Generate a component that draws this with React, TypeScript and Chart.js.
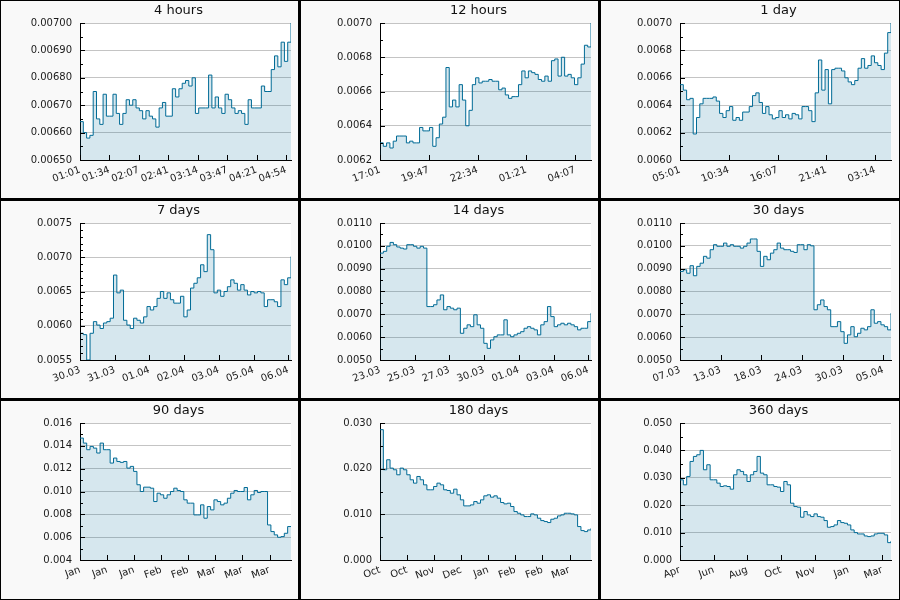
import { useEffect, useRef } from 'react'
import { Chart, registerables } from 'chart.js'

Chart.register(...registerables)
Chart.defaults.font.family = "'DejaVu Sans', sans-serif"
Chart.defaults.font.size = 10

const lineColor = '#006b96'
const fillColor = 'rgba(0, 107, 150, 0.16)'
const textColor = '#1a1a1a'

// 4 hours
const h4Ticks = ['01:01', '01:34', '02:07', '02:41', '03:14', '03:47', '04:21', '04:54']
const h4Values = [
  0.00664, 0.0066, 0.00658, 0.00659, 0.00675, 0.00665, 0.00663, 0.00674, 0.00666, 0.00666,
  0.00674, 0.00667, 0.00663, 0.00667, 0.00672, 0.0067, 0.00672, 0.00669, 0.00668, 0.00665,
  0.00668, 0.00666, 0.00665, 0.00662, 0.00669, 0.00671, 0.00666, 0.00666, 0.00676, 0.00673,
  0.00676, 0.00678, 0.00679, 0.00677, 0.0068, 0.00667, 0.00669, 0.00669, 0.00669, 0.00681,
  0.00669, 0.00673, 0.00669, 0.00667, 0.00674, 0.00672, 0.00669, 0.00667, 0.00668, 0.00667,
  0.00663, 0.00672, 0.00669, 0.00669, 0.00669, 0.00677, 0.00675, 0.00675, 0.00683, 0.00688,
  0.00684, 0.00693, 0.00686, 0.00693, 0.007,
]

// 12 hours
const h12Ticks = ['17:01', '19:47', '22:34', '01:21', '04:07']
const h12Values = [
  0.0063, 0.00628, 0.0063, 0.00627, 0.00631, 0.00634, 0.00634, 0.00634, 0.0063, 0.00631,
  0.0063, 0.0063, 0.00639, 0.00637, 0.00637, 0.00639, 0.00628, 0.00633, 0.00641, 0.00645,
  0.00674, 0.00651, 0.00655, 0.00651, 0.00664, 0.00655, 0.0064, 0.00649, 0.00664, 0.00668,
  0.00665, 0.00666, 0.00666, 0.00667, 0.00666, 0.00666, 0.00661, 0.00662, 0.00658, 0.00656,
  0.00657, 0.00657, 0.00664, 0.00672, 0.00668, 0.00672, 0.00671, 0.0067, 0.00667, 0.00666,
  0.00669, 0.00666, 0.00678, 0.00679, 0.00669, 0.0068, 0.00669, 0.0067, 0.00668, 0.00664,
  0.00668, 0.00676, 0.00687, 0.00686, 0.007,
]

// 1 day
const d1Ticks = ['05:01', '10:34', '16:07', '21:41', '03:14']
const d1Values = [
  0.00655, 0.00651, 0.00644, 0.00645, 0.00619, 0.00631, 0.00641, 0.00645, 0.00645, 0.00645,
  0.00646, 0.00643, 0.00634, 0.00631, 0.00636, 0.00639, 0.00629, 0.00631, 0.00629, 0.00635,
  0.00635, 0.00639, 0.00647, 0.00649, 0.00642, 0.00634, 0.00639, 0.00633, 0.0063, 0.00631,
  0.00636, 0.00631, 0.00633, 0.0063, 0.00634, 0.00633, 0.0063, 0.00639, 0.00639, 0.00636,
  0.00628, 0.00649, 0.00673, 0.00651, 0.00666, 0.00641, 0.00666, 0.00667, 0.00667, 0.00665,
  0.0066, 0.00657, 0.00655, 0.00658, 0.00667, 0.00674, 0.00667, 0.00669, 0.00676, 0.00671,
  0.00669, 0.00666, 0.00678, 0.00693, 0.007,
]

// 7 days
const d7Ticks = ['30.03', '31.03', '01.04', '02.04', '03.04', '05.04', '06.04']
const d7Values = [
  0.00589, 0.00587, 0.0055, 0.00589, 0.00606, 0.00601, 0.00596, 0.00604, 0.00606, 0.00611,
  0.00674, 0.00648, 0.00652, 0.00608, 0.00601, 0.00596, 0.00611, 0.00608, 0.00604, 0.00613,
  0.00628, 0.00623, 0.00628, 0.0064, 0.0065, 0.0064, 0.00648, 0.00638, 0.00633, 0.00633,
  0.00643, 0.00613, 0.00623, 0.00655, 0.00662, 0.0067, 0.00689, 0.00679, 0.00733, 0.00711,
  0.00648, 0.00652, 0.00643, 0.0065, 0.00657, 0.00667, 0.00662, 0.00652, 0.0066, 0.00652,
  0.00645, 0.0065, 0.00648, 0.0065, 0.00648, 0.00628, 0.00638, 0.00638, 0.00635, 0.00628,
  0.00667, 0.0066, 0.0067, 0.00701,
]

// 14 days
const d14Ticks = ['23.03', '25.03', '27.03', '30.03', '01.04', '03.04', '06.04']
const d14Values = [
  0.00968, 0.00976, 0.00998, 0.01015, 0.01005, 0.00995, 0.0099, 0.00986, 0.01005, 0.01005,
  0.00998, 0.0099, 0.00998, 0.0099, 0.00734, 0.00734, 0.00742, 0.00763, 0.00785, 0.0072,
  0.00734, 0.00727, 0.0072, 0.00727, 0.00617, 0.00639, 0.00654, 0.00646, 0.00698, 0.00654,
  0.00639, 0.00573, 0.00551, 0.00588, 0.00602, 0.0061, 0.0061, 0.00676, 0.0061, 0.00602,
  0.0061, 0.00617, 0.00624, 0.00639, 0.00646, 0.00639, 0.00632, 0.0061, 0.00654, 0.00668,
  0.00734, 0.0069, 0.00646, 0.00654, 0.00661, 0.00654, 0.00661, 0.00654, 0.00646, 0.00632,
  0.00639, 0.00639, 0.00668, 0.00705,
]

// 30 days
const d30Ticks = ['07.03', '13.03', '18.03', '24.03', '30.03', '05.04']
const d30Values = [
  0.00888, 0.00895, 0.0088, 0.00913, 0.00869, 0.0091, 0.00924, 0.00954, 0.00946, 0.00983,
  0.01005, 0.00998, 0.00998, 0.01012, 0.00998, 0.01005, 0.00998, 0.00998, 0.0099, 0.00998,
  0.01012, 0.0103, 0.0103, 0.00976, 0.0091, 0.00954, 0.00939, 0.00968, 0.00983, 0.01012,
  0.0099, 0.00983, 0.00983, 0.00976, 0.00971, 0.01005, 0.01005, 0.00983, 0.01005, 0.01,
  0.0072, 0.00742, 0.00763, 0.00734, 0.0072, 0.00646, 0.00646, 0.00668, 0.00624, 0.00573,
  0.0061, 0.00646, 0.00602, 0.00617, 0.00639, 0.00632, 0.00646, 0.0072, 0.00661, 0.00668,
  0.00654, 0.00646, 0.00632, 0.00705,
]

// 90 days
const d90Ticks = ['Jan', 'Jan', 'Jan', 'Feb', 'Feb', 'Mar', 'Mar', 'Mar']
const d90Values = [
  0.01468, 0.01424, 0.01366, 0.01395, 0.0138, 0.01337, 0.01424, 0.01366, 0.01366, 0.01249,
  0.01293, 0.01263, 0.01255, 0.01263, 0.01205, 0.0122, 0.01176, 0.01059, 0.01, 0.01038,
  0.01038, 0.01029, 0.00912, 0.00985, 0.00971, 0.00941, 0.00971, 0.01, 0.01029, 0.01009,
  0.01, 0.00927, 0.00898, 0.00898, 0.00795, 0.00795, 0.00883, 0.00766, 0.00868, 0.00839,
  0.00927, 0.00912, 0.00883, 0.00898, 0.00941, 0.00985, 0.01009, 0.01, 0.01, 0.01035,
  0.00927, 0.00971, 0.01009, 0.00991, 0.01, 0.01, 0.00707, 0.00649, 0.0062, 0.00599,
  0.00605, 0.00634, 0.00693, 0.00693,
]

// 180 days
const d180Ticks = ['Oct', 'Oct', 'Nov', 'Dec', 'Jan', 'Feb', 'Feb', 'Mar']
const d180Values = [
  0.02854, 0.01976, 0.02195, 0.02012, 0.01976, 0.01866, 0.02012, 0.01976, 0.01866, 0.01756,
  0.01683, 0.01829, 0.01756, 0.01646, 0.01537, 0.01537, 0.0161, 0.01683, 0.01646, 0.01537,
  0.01522, 0.01463, 0.01551, 0.01427, 0.01317, 0.01185, 0.01185, 0.01207, 0.0128, 0.01244,
  0.01317, 0.01405, 0.01427, 0.01376, 0.01405, 0.01354, 0.01259, 0.01229, 0.01244, 0.01171,
  0.01061, 0.01024, 0.00988, 0.00951, 0.00951, 0.0101, 0.00988, 0.00915, 0.00863, 0.00842,
  0.0082, 0.00893, 0.00915, 0.00966, 0.00988, 0.01024, 0.01024, 0.0101, 0.00988, 0.00732,
  0.00644, 0.00622, 0.00658, 0.00695,
]

// 360 days
const d360Ticks = ['Apr', 'Jun', 'Aug', 'Oct', 'Nov', 'Jan', 'Mar']
const d360Values = [
  0.02927, 0.02744, 0.03049, 0.03597, 0.0378, 0.03841, 0.04, 0.03293, 0.03476, 0.02927,
  0.02927, 0.02805, 0.02683, 0.02707, 0.02683, 0.02585, 0.0311, 0.03293, 0.03232, 0.0311,
  0.02866, 0.0311, 0.03232, 0.0378, 0.03171, 0.0311, 0.02744, 0.02744, 0.02683, 0.02659,
  0.025, 0.02866, 0.02744, 0.02073, 0.01951, 0.01927, 0.01561, 0.01768, 0.01646, 0.01585,
  0.01683, 0.01585, 0.01561, 0.01439, 0.01195, 0.0122, 0.0128, 0.01439, 0.01366, 0.01341,
  0.0128, 0.01098, 0.01, 0.00951, 0.00951, 0.00878, 0.00854, 0.00878, 0.00951, 0.00976,
  0.00976, 0.00915, 0.00634, 0.00695,
]

interface Panel {
  title: string
  span: number
  tickStep: number
  tickLabels: string[]
  values: number[]
  yMin: number
  yMax: number
  yStep: number
  yMinor: number
  decimals: number
}

const panels: Panel[] = [
  { title: '4 hours', span: 240, tickStep: 33.5, tickLabels: h4Ticks, values: h4Values, yMin: 0.0065, yMax: 0.007, yStep: 0.0001, yMinor: 2, decimals: 5 },
  { title: '12 hours', span: 720, tickStep: 166.5, tickLabels: h12Ticks, values: h12Values, yMin: 0.0062, yMax: 0.007, yStep: 0.0002, yMinor: 2, decimals: 4 },
  { title: '1 day', span: 1440, tickStep: 333, tickLabels: d1Ticks, values: d1Values, yMin: 0.006, yMax: 0.007, yStep: 0.0002, yMinor: 2, decimals: 4 },
  { title: '7 days', span: 168, tickStep: 27.65, tickLabels: d7Ticks, values: d7Values, yMin: 0.0055, yMax: 0.0075, yStep: 0.0005, yMinor: 5, decimals: 4 },
  { title: '14 days', span: 336, tickStep: 55.3, tickLabels: d14Ticks, values: d14Values, yMin: 0.005, yMax: 0.011, yStep: 0.001, yMinor: 2, decimals: 4 },
  { title: '30 days', span: 30, tickStep: 5.78, tickLabels: d30Ticks, values: d30Values, yMin: 0.005, yMax: 0.011, yStep: 0.001, yMinor: 2, decimals: 4 },
  { title: '90 days', span: 90, tickStep: 11.55, tickLabels: d90Ticks, values: d90Values, yMin: 0.004, yMax: 0.016, yStep: 0.002, yMinor: 2, decimals: 3 },
  { title: '180 days', span: 180, tickStep: 23.1, tickLabels: d180Ticks, values: d180Values, yMin: 0, yMax: 0.03, yStep: 0.01, yMinor: 2, decimals: 3 },
  { title: '360 days', span: 360, tickStep: 57.5, tickLabels: d360Ticks, values: d360Values, yMin: 0, yMax: 0.05, yStep: 0.01, yMinor: 2, decimals: 3 },
]

const colWidths = [297, 297, 298]
const rowHeights = [197, 197, 198]

// white plot area, inside tick marks and the panel title
function makeFramePlugin(p: Panel) {
  return {
    id: 'frame',
    beforeDraw(chart: any) {
      const { ctx, chartArea: a } = chart
      ctx.save()
      ctx.fillStyle = '#fff'
      ctx.fillRect(a.left, a.top, a.right - a.left, a.bottom - a.top)
      ctx.restore()
    },
    afterDraw(chart: any) {
      const { ctx, chartArea: a, scales } = chart
      ctx.save()
      ctx.strokeStyle = '#000'
      ctx.lineWidth = 1
      ctx.beginPath()
      const minorStep = p.yStep / p.yMinor
      const count = Math.round((p.yMax - p.yMin) / minorStep)
      for (let i = 0; i <= count; i++) {
        const y = Math.round(scales.y.getPixelForValue(p.yMin + i * minorStep)) + 0.5
        const len = i % p.yMinor === 0 ? 5 : 3
        ctx.moveTo(a.left, y)
        ctx.lineTo(a.left + len, y)
      }
      scales.x.ticks.forEach((t: any) => {
        const x = Math.round(scales.x.getPixelForValue(t.value)) + 0.5
        ctx.moveTo(x, a.bottom)
        ctx.lineTo(x, a.bottom - 5)
      })
      ctx.stroke()
      ctx.fillStyle = '#111'
      ctx.font = "13px 'DejaVu Sans', sans-serif"
      ctx.textAlign = 'center'
      ctx.textBaseline = 'middle'
      ctx.fillText(p.title, (a.left + a.right) / 2 - 7, 10)
      ctx.restore()
    },
  }
}

function PanelChart({ panel, width, height }: { panel: Panel; width: number; height: number }) {
  const canvasRef = useRef<HTMLCanvasElement>(null)

  useEffect(() => {
    if (!canvasRef.current) return
    const n = panel.values.length
    const points = panel.values.map((v, i) => ({ x: (i * panel.span) / (n - 1), y: v }))

    const chart = new Chart(canvasRef.current, {
      type: 'line',
      data: {
        datasets: [
          {
            data: points,
            stepped: true,
            borderColor: lineColor,
            borderWidth: 1,
            backgroundColor: fillColor,
            fill: 'start',
            pointRadius: 0,
          },
        ],
      },
      options: {
        animation: false,
        responsive: false,
        events: [],
        layout: { padding: { left: 0, top: 22, right: width - 290, bottom: 0 } },
        plugins: {
          legend: { display: false },
          tooltip: { enabled: false },
        },
        scales: {
          x: {
            type: 'linear',
            min: 0,
            max: panel.span,
            afterBuildTicks: (scale: any) => {
              scale.ticks = panel.tickLabels.map((_, k) => ({ value: k * panel.tickStep }))
            },
            afterFit: (scale: any) => {
              scale.height = height - 159 - 0
            },
            grid: { display: false, drawTicks: false },
            border: { display: true, color: '#000', width: 1 },
            ticks: {
              autoSkip: false,
              minRotation: 20,
              maxRotation: 20,
              padding: 4,
              color: textColor,
              callback: (_v: any, i: number) => panel.tickLabels[i],
            },
          },
          y: {
            type: 'linear',
            min: panel.yMin,
            max: panel.yMax,
            afterBuildTicks: (scale: any) => {
              const k = Math.round((panel.yMax - panel.yMin) / panel.yStep)
              scale.ticks = Array.from({ length: k + 1 }, (_, j) => ({ value: panel.yMin + j * panel.yStep }))
            },
            afterFit: (scale: any) => {
              scale.width = 79
            },
            grid: { color: '#c4c4c4', drawTicks: false },
            border: { display: true, color: '#000', width: 1 },
            ticks: {
              padding: 8,
              color: textColor,
              callback: (v: any) => Number(v).toFixed(panel.decimals),
            },
          },
        },
      },
      plugins: [makeFramePlugin(panel)],
    })

    return () => chart.destroy()
  }, [panel, width, height])

  return <canvas ref={canvasRef} width={width} height={height} style={{ display: 'block', width, height }} />
}

export default function App() {
  return (
    <div
      style={{
        position: 'absolute',
        left: 0,
        top: 0,
        width: 900,
        height: 600,
        boxSizing: 'border-box',
        padding: 1,
        background: '#000',
        display: 'grid',
        gridTemplateColumns: colWidths.map((w) => `${w}px`).join(' '),
        gridTemplateRows: rowHeights.map((h) => `${h}px`).join(' '),
        gap: 3,
      }}
    >
      {panels.map((p, i) => {
        const w = colWidths[i % 3]
        const h = rowHeights[Math.floor(i / 3)]
        return (
          <div key={p.title} style={{ background: '#f9f9f9', width: w, height: h }}>
            <PanelChart panel={p} width={w} height={h} />
          </div>
        )
      })}
    </div>
  )
}
